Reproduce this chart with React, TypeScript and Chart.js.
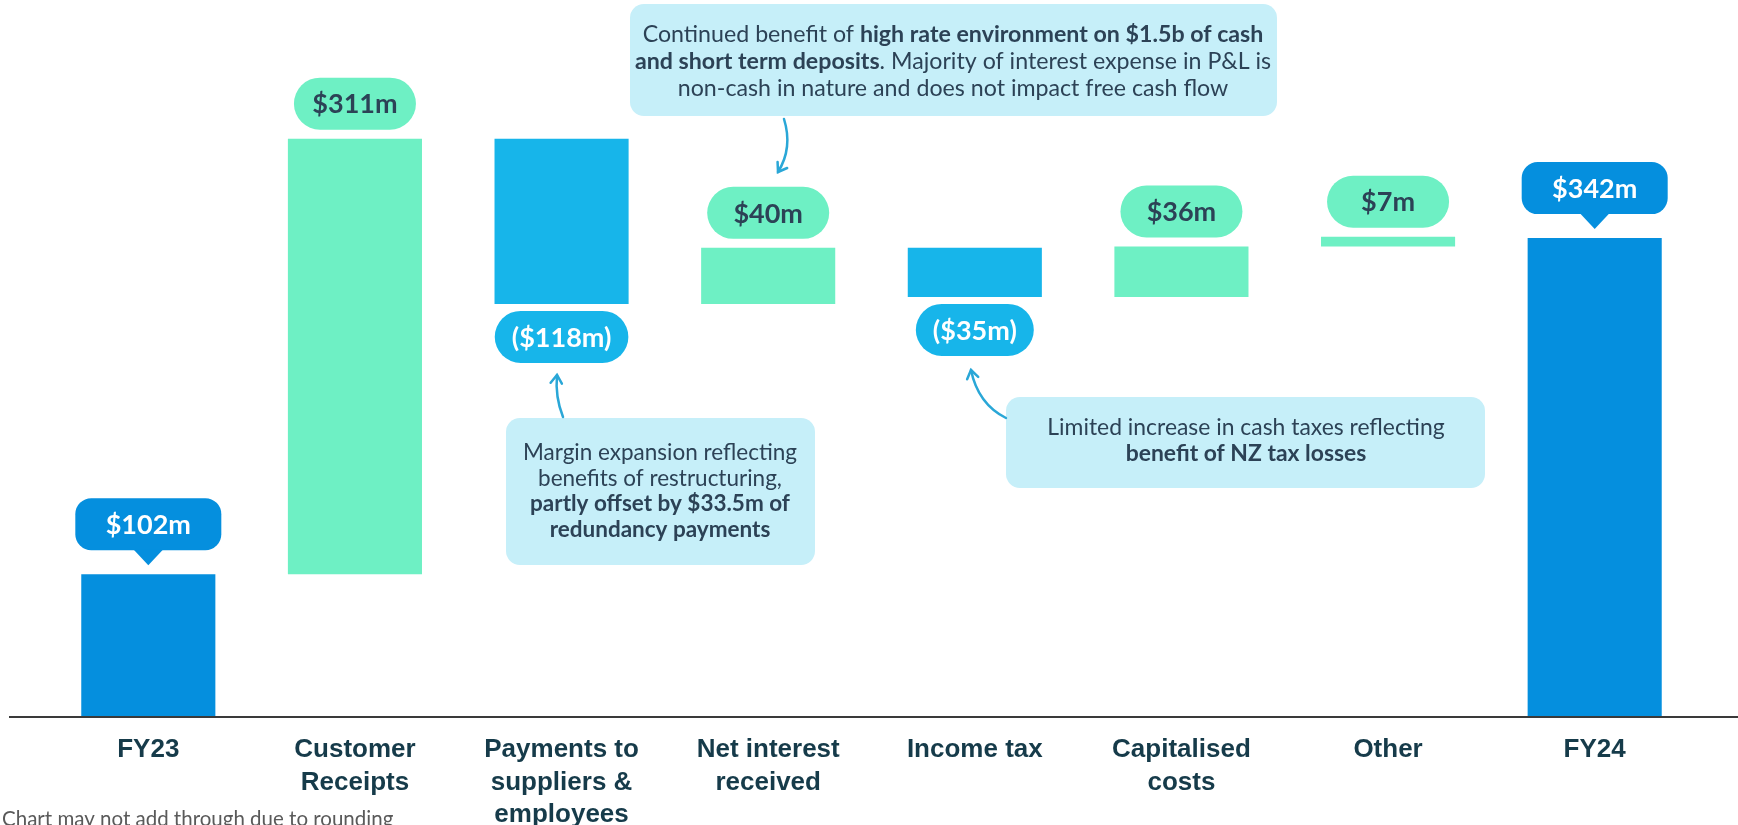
import { useEffect, useRef } from 'react';
import { Chart, registerables } from 'chart.js';

Chart.register(...registerables);

// ---------- data ----------
const categories: string[][] = [
  ['FY23'],
  ['Customer', 'Receipts'],
  ['Payments to', 'suppliers &', 'employees'],
  ['Net interest', 'received'],
  ['Income tax'],
  ['Capitalised', 'costs'],
  ['Other'],
  ['FY24'],
];
const stepValues = [102, 311, -118, 40, -35, 36, 7, 342];
const stepKinds = ['total', 'increase', 'decrease', 'increase', 'decrease', 'increase', 'increase', 'total'];
const valueLabels = ['$102m', '$311m', '($118m)', '$40m', '($35m)', '$36m', '$7m', '$342m'];
const yAxisMax = 512;

type Seg = [string, boolean];
const noteInterest: Seg[][] = [
  [['Continued benefit of ', false], ['high rate environment on $1.5b of cash', true]],
  [['and short term deposits', true], ['. Majority of interest expense in P&L is', false]],
  [['non-cash in nature and does not impact free cash flow', false]],
];
const notePayments: Seg[][] = [
  [['Margin expansion reflecting', false]],
  [['benefits of restructuring,', false]],
  [['partly offset by $33.5m of', true]],
  [['redundancy payments', true]],
];
const noteTax: Seg[][] = [
  [['Limited increase in cash taxes reflecting', false]],
  [['benefit of NZ tax losses', true]],
];
const footnote = 'Chart may not add through due to rounding';

// ---------- styles ----------
const COLORS: Record<string, string> = {
  total: '#058FDE',
  increase: '#6EF0C4',
  decrease: '#17B5EA',
};
const NOTE_BG = '#C6EFF9';
const DARK = '#2C4256';
const ARROW = '#2AA7D7';
const FONT = 'Lato, "Noto Sans", sans-serif';

function floatingRanges(): [number, number][] {
  const out: [number, number][] = [];
  let run = 0;
  stepValues.forEach((v, i) => {
    if (stepKinds[i] === 'total') {
      out.push([0, v]);
      run = v;
    } else {
      out.push(v >= 0 ? [run, run + v] : [run + v, run]);
      run += v;
    }
  });
  return out;
}

function rr(ctx: CanvasRenderingContext2D, x: number, y: number, w: number, h: number, r: number) {
  const rad = Math.min(r, h / 2, w / 2);
  ctx.beginPath();
  ctx.moveTo(x + rad, y);
  ctx.lineTo(x + w - rad, y);
  ctx.arcTo(x + w, y, x + w, y + rad, rad);
  ctx.lineTo(x + w, y + h - rad);
  ctx.arcTo(x + w, y + h, x + w - rad, y + h, rad);
  ctx.lineTo(x + rad, y + h);
  ctx.arcTo(x, y + h, x, y + h - rad, rad);
  ctx.lineTo(x, y + rad);
  ctx.arcTo(x, y, x + rad, y, rad);
  ctx.closePath();
}

function drawLines(ctx: CanvasRenderingContext2D, lines: Seg[][], cx: number, firstY: number, lh: number, size: number) {
  ctx.textBaseline = 'middle';
  ctx.textAlign = 'left';
  ctx.fillStyle = DARK;
  lines.forEach((line, li) => {
    let total = 0;
    const widths = line.map(([t, b]) => {
      ctx.font = `${b ? 'bold ' : ''}${size}px ${FONT}`;
      const w = ctx.measureText(t).width;
      total += w;
      return w;
    });
    let x = cx - total / 2;
    line.forEach(([t, b], i) => {
      ctx.font = `${b ? 'bold ' : ''}${size}px ${FONT}`;
      ctx.fillText(t, x, firstY + li * lh);
      x += widths[i];
    });
  });
}

function arrow(ctx: CanvasRenderingContext2D, sx: number, sy: number, cx: number, cy: number, ex: number, ey: number) {
  ctx.save();
  ctx.strokeStyle = ARROW;
  ctx.lineWidth = 2.5;
  ctx.lineCap = 'round';
  ctx.beginPath();
  ctx.moveTo(sx, sy);
  ctx.quadraticCurveTo(cx, cy, ex, ey);
  ctx.stroke();
  const ang = Math.atan2(ey - cy, ex - cx);
  const hl = 10;
  ctx.beginPath();
  ctx.moveTo(ex - hl * Math.cos(ang - 0.6), ey - hl * Math.sin(ang - 0.6));
  ctx.lineTo(ex, ey);
  ctx.lineTo(ex - hl * Math.cos(ang + 0.6), ey - hl * Math.sin(ang + 0.6));
  ctx.stroke();
  ctx.restore();
}

const overlayPlugin = {
  id: 'overlay',
  afterDatasetsDraw(chart: any) {
    const ctx: CanvasRenderingContext2D = chart.ctx;
    const meta = chart.getDatasetMeta(0);
    const area = chart.chartArea;
    ctx.save();

    // axis line
    ctx.strokeStyle = '#3a3a3a';
    ctx.lineWidth = 2;
    ctx.beginPath();
    ctx.moveTo(9, area.bottom);
    ctx.lineTo(chart.width, area.bottom);
    ctx.stroke();

    // value pills
    meta.data.forEach((bar: any, i: number) => {
      const top = Math.min(bar.y, bar.base);
      const bottom = Math.max(bar.y, bar.base);
      const kind = stepKinds[i];
      const label = valueLabels[i];
      ctx.font = `bold 27px ${FONT}`;
      const tw = ctx.measureText(label).width;
      const h = 52;
      let bx: number, by: number, w: number;
      if (kind === 'total') {
        w = 146;
        by = top - 24 - h;
        bx = bar.x - w / 2;
        ctx.fillStyle = COLORS.total;
        rr(ctx, bx, by, w, h, 16);
        ctx.fill();
        ctx.beginPath();
        ctx.moveTo(bar.x - 15, by + h - 1);
        ctx.lineTo(bar.x + 15, by + h - 1);
        ctx.lineTo(bar.x, by + h + 15);
        ctx.closePath();
        ctx.fill();
        ctx.fillStyle = '#ffffff';
      } else if (kind === 'increase') {
        w = 122;
        by = top - 9 - h;
        bx = bar.x - w / 2;
        ctx.fillStyle = COLORS.increase;
        rr(ctx, bx, by, w, h, 26);
        ctx.fill();
        ctx.fillStyle = DARK;
      } else {
        w = tw + 34;
        by = bottom + 7;
        bx = bar.x - w / 2;
        ctx.fillStyle = COLORS.decrease;
        rr(ctx, bx, by, w, h, 26);
        ctx.fill();
        ctx.fillStyle = '#ffffff';
      }
      ctx.textAlign = 'center';
      ctx.textBaseline = 'middle';
      ctx.fillText(label, bar.x, by + h / 2 + 1);
    });

    // notes
    ctx.fillStyle = NOTE_BG;
    rr(ctx, 630, 4, 647, 112, 14);
    ctx.fill();
    drawLines(ctx, noteInterest, 953, 35, 27, 23.2);

    ctx.fillStyle = NOTE_BG;
    rr(ctx, 506, 418, 309, 147, 14);
    ctx.fill();
    drawLines(ctx, notePayments, 660, 453, 25.5, 22.5);

    ctx.fillStyle = NOTE_BG;
    rr(ctx, 1006, 397, 479, 91, 14);
    ctx.fill();
    drawLines(ctx, noteTax, 1246, 428, 26, 22.9);

    // arrows
    arrow(ctx, 784, 119, 793, 148, 778, 172);
    arrow(ctx, 563, 417, 555, 397, 557, 375);
    arrow(ctx, 1006, 418, 978, 404, 971, 370);

    // footnote
    ctx.fillStyle = '#5a5a5a';
    ctx.font = `20.5px ${FONT}`;
    ctx.textAlign = 'left';
    ctx.textBaseline = 'alphabetic';
    ctx.fillText(footnote, 2, 826);

    ctx.restore();
  },
};

export default function App() {
  const ref = useRef<HTMLCanvasElement | null>(null);
  useEffect(() => {
    if (!ref.current) return;
    const ranges = floatingRanges();
    const chart = new Chart(ref.current, {
      type: 'bar',
      data: {
        labels: categories,
        datasets: [
          {
            data: ranges as any,
            backgroundColor: stepKinds.map((k) => COLORS[k]),
            borderWidth: 0,
            borderSkipped: false,
            categoryPercentage: 1,
            barPercentage: 0.649,
          },
        ],
      },
      options: {
        responsive: false,
        animation: false,
        layout: { padding: { left: 45, right: 40, top: 0, bottom: 0 } },
        plugins: { legend: { display: false }, tooltip: { enabled: false } },
        scales: {
          x: {
            grid: { display: false, drawTicks: false },
            border: { display: false },
            ticks: {
              padding: 17,
              color: '#163B4A',
              font: { family: '"Liberation Sans", Arial, sans-serif', size: 26, weight: 'bold', lineHeight: 32.5 / 26 },
              maxRotation: 0,
              autoSkip: false,
            },
            afterFit: (scale: any) => {
              scale.height = 108;
            },
          },
          y: {
            display: false,
            min: 0,
            max: yAxisMax,
          },
        },
      },
      plugins: [overlayPlugin],
    });
    return () => chart.destroy();
  }, []);
  return (
    <div style={{ position: 'fixed', left: 0, top: 0, width: 1738, height: 825, background: '#fff' }}>
      <canvas ref={ref} width={1738} height={825} style={{ display: 'block' }} />
    </div>
  );
}
